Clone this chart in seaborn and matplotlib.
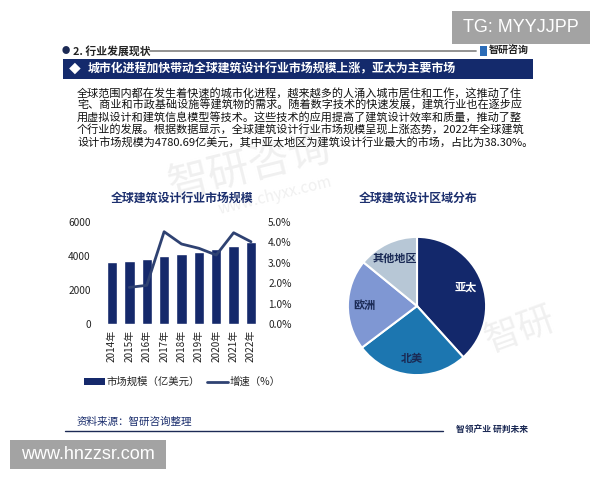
import matplotlib
matplotlib.use('Agg')
import matplotlib.pyplot as plt
import seaborn as sns
import numpy as np
import pandas as pd
from matplotlib.patches import Rectangle, Patch
from matplotlib.lines import Line2D
from matplotlib.ticker import FuncFormatter

# ---------------- data ----------------
years = ['2014年', '2015年', '2016年', '2017年', '2018年', '2019年', '2020年', '2021年', '2022年']
market_size = [3635, 3694, 3791, 3967, 4104, 4241, 4397, 4573, 4781]          # 亿美元
growth = [np.nan, 1.79, 1.89, 4.51, 3.91, 3.70, 3.37, 4.46, 4.02]              # %
regions = ['亚太', '北美', '欧洲', '其他地区']
shares = [38.3, 26.4, 21.2, 14.1]
left_ticks = [0, 2000, 4000, 6000]
right_ticks = [0, 1, 2, 3, 4, 5]

para_lines = [
    "全球范围内都在发生着快速的城市化进程，越来越多的人涌入城市居住和工作，这推动了住",
    "宅、商业和市政基础设施等建筑物的需求。随着数字技术的快速发展，建筑行业也在逐步应",
    "用虚拟设计和建筑信息模型等技术。这些技术的应用提高了建筑设计效率和质量，推动了整",
    "个行业的发展。根据数据显示，全球建筑设计行业市场规模呈现上涨态势，2022年全球建筑",
    "设计市场规模为4780.69亿美元，其中亚太地区为建筑设计行业最大的市场，占比为38.30%。",
]

# ---------------- style ----------------
sns.set_theme(style='white')
plt.rcParams['font.family'] = ['Noto Sans CJK SC', 'DejaVu Sans']

NAVY = '#15296b'
LINE_C = '#2f4272'
TITLE_C = '#1c2f6e'
pie_colors = ['#13286b', '#1c76b0', '#7f97d3', '#b7c7d6']
pie_text_colors = ['white', '#1a2a55', '#1a2a55', '#1a2a55']

W, H = 600, 480
fig = plt.figure(figsize=(6, 4.8), dpi=100)
fig.patch.set_facecolor('white')


def fx(x):
    return x / W


def fy(y):
    return 1 - y / H


def rect(x0, y0, x1, y1, color):
    fig.add_artist(Rectangle((fx(x0), fy(y1)), (x1 - x0) / W, (y1 - y0) / H,
                             transform=fig.transFigure, facecolor=color,
                             edgecolor='none', zorder=0))


def txt(x, y, s, **kw):
    fig.text(fx(x), fy(y), s, transform=fig.transFigure, **kw)


# ---------------- faint watermarks ----------------
txt(250, 168, '智研咨询', color='#f0f0f0', fontsize=30, rotation=14,
    ha='center', va='center', zorder=-1)
txt(275, 196, 'www.chyxx.com', color='#f0f0f0', fontsize=11, rotation=14,
    ha='center', va='center', zorder=-1)
txt(520, 330, '智研', color='#f0f0f0', fontsize=26, rotation=20,
    ha='center', va='center', zorder=-1)

# ---------------- header decorations ----------------
rect(452, 11, 590, 44, '#a3a3a3')
txt(521, 27.5, 'TG: MYYJJPP', color='white', fontsize=13, ha='center', va='center',
    family=['Liberation Sans', 'DejaVu Sans'])

txt(66, 51, '●', color='#1c2a55', fontsize=6, ha='center', va='center')
txt(73, 51, '2. 行业发展现状', color='#222222', fontsize=7.8, fontweight='bold',
    ha='left', va='center')
fig.add_artist(Line2D([fx(150), fx(476)], [fy(51), fy(51)], transform=fig.transFigure,
                      color='#8a8a8a', lw=1.3))
rect(480, 46, 487, 56, '#2b6cb8')
txt(489, 51, '智研咨询', color='#222222', fontsize=7.2, fontweight='bold',
    ha='left', va='center')

rect(63, 59, 533, 79, '#142a6c')
txt(69, 69, '◆', color='white', fontsize=8.5, ha='left', va='center')
txt(88, 69, '城市化进程加快带动全球建筑设计行业市场规模上涨，亚太为主要市场',
    color='white', fontsize=8.6, fontweight='bold', ha='left', va='center')

for i, line in enumerate(para_lines):
    txt(77, 93 + 12.4 * i, line, color='#111111', fontsize=8, ha='left', va='center')

# ---------------- bar + line chart ----------------
df = pd.DataFrame({'year': years, 'size': market_size, 'growth': growth})
df['pos'] = np.arange(len(df))

ax = fig.add_axes([fx(103.3), fy(324), (259.7 - 103.3) / W, (324 - 221.7) / H])
ax.patch.set_alpha(0)
sns.barplot(data=df, x='year', y='size', color=NAVY, width=0.6, saturation=1,
            ax=ax, zorder=2)
ax.set_xlim(-0.5, len(years) - 0.5)
ax.set_ylim(0, 6000)
ax.set_yticks(left_ticks)
ax.set_xlabel('')
ax.set_ylabel('')
ax.tick_params(axis='y', length=0, pad=9, labelsize=7.3, labelcolor='#222222')
ax.tick_params(axis='x', length=0, pad=4, labelsize=7.2, labelcolor='#222222',
               rotation=90)
for s in ax.spines.values():
    s.set_visible(False)

ax2 = ax.twinx()
ax2.patch.set_alpha(0)
sns.lineplot(data=df, x='pos', y='growth', color=LINE_C, lw=2, ax=ax2, zorder=3)
ax2.set_ylim(0, 5)
ax2.set_yticks(right_ticks)
ax2.yaxis.set_major_formatter(FuncFormatter(lambda v, p: f'{v:.1f}%'))
ax2.set_ylabel('')
ax2.set_xlabel('')
ax2.tick_params(axis='y', length=0, pad=6, labelsize=7.3, labelcolor='#222222')
for s in ax2.spines.values():
    s.set_visible(False)
ax2.set_xlim(-0.5, len(years) - 0.5)

txt(182, 198, '全球建筑设计行业市场规模', color=TITLE_C, fontsize=8.6,
    fontweight='bold', ha='center', va='center')

handles = [Patch(facecolor=NAVY, edgecolor='none'), Line2D([], [], color=LINE_C, lw=2)]
labels = ['市场规模（亿美元）', '增速（%）']
fig.legend(handles, labels, loc='center', bbox_to_anchor=(fx(182), fy(382)), ncol=2,
           frameon=False, fontsize=7.5, handlelength=2.0, handleheight=0.6,
           handletextpad=0.15, columnspacing=0.7, borderaxespad=0, borderpad=0)

# ---------------- pie chart ----------------
R = 70.5
axp = fig.add_axes([fx(417 - R), fy(306 + R), 2 * R / W, 2 * R / H])
axp.patch.set_alpha(0)
wedges, texts = axp.pie(shares, colors=pie_colors, startangle=90, counterclock=False,
                        labels=regions, labeldistance=0.76,
                        wedgeprops=dict(edgecolor='white', linewidth=1.5),
                        textprops=dict(fontsize=8, fontweight='bold', ha='center',
                                       va='center'))
for t, c in zip(texts, pie_text_colors):
    t.set_color(c)
    t.set_horizontalalignment('center')
axp.set_xlim(-1.02, 1.02)
axp.set_ylim(-1.02, 1.02)
axp.set_aspect('equal')
axp.axis('off')

txt(418, 198, '全球建筑设计区域分布', color=TITLE_C, fontsize=8.6,
    fontweight='bold', ha='center', va='center')

# ---------------- footer ----------------
txt(77, 422, '资料来源：智研咨询整理', color='#1c2f6e', fontsize=7.6,
    ha='left', va='center')
fig.add_artist(Line2D([fx(65), fx(443)], [fy(431), fy(431)], transform=fig.transFigure,
                      color='#1c2a55', lw=1.0))
txt(456, 430, '智领产业 研判未来', color='#1c2a55', fontsize=6.3, fontweight='bold',
    ha='left', va='center')

rect(10, 440, 166, 469, '#a3a3a3')
txt(88, 454.5, 'www.hnzzsr.com', color='white', fontsize=13, ha='center', va='center',
    family=['Liberation Sans', 'DejaVu Sans'])

fig.savefig('out.png', dpi=100, facecolor='white')
